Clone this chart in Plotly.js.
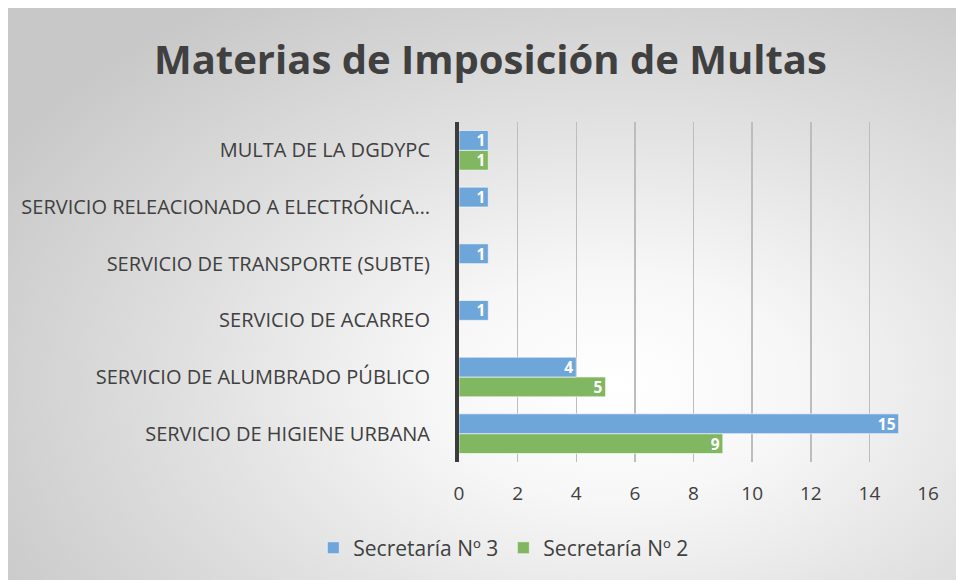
<!DOCTYPE html>
<html>
<head>
<meta charset="utf-8">
<script src="https://cdn.plot.ly/plotly-3.0.1.min.js"></script>
<style>
  html, body { margin: 0; padding: 0; background: #ffffff; overflow: hidden; }
  #frame { position: absolute; left: 8px; top: 8px; width: 948px; height: 572px;
    background: radial-gradient(ellipse 75% 80% at 64% 66%, #ffffff 0%, #f7f7f7 25%, #e0e0e0 60%, #c8c8c8 100%); }
  #chart { position: absolute; left: 0; top: 0; width: 956px; height: 580px; }
</style>
</head>
<body>
<div id="frame"></div>
<div id="chart"></div>
<script>
const categories = [
  "SERVICIO DE HIGIENE URBANA",
  "SERVICIO DE ALUMBRADO PÚBLICO",
  "SERVICIO DE ACARREO",
  "SERVICIO DE TRANSPORTE (SUBTE)",
  "SERVICIO RELEACIONADO A ELECTRÓNICA…",
  "MULTA DE LA DGDYPC"
];
const secretaria3 = [15, 4, 1, 1, 1, 1];
const secretaria2 = [9, 5, null, null, null, 1];
const seriesNames = ["Secretaría Nº 3", "Secretaría Nº 2"];
const xTicks = [0, 2, 4, 6, 8, 10, 12, 14, 16];

const fontFam = "'Open Sans', 'Liberation Sans', sans-serif";
const textCol = "#404040";

function labels(arr) { return arr.map(v => v == null ? "" : String(v)); }

const common = {
  type: "bar", orientation: "h", y: categories,
  textposition: "inside", insidetextanchor: "end", constraintext: "none", textangle: 0,
  textfont: { family: fontFam, size: 15.5, color: "#ffffff", weight: "bold" },
  hoverinfo: "x+y+name", cliponaxis: false
};

const data = [
  Object.assign({}, common, {
    name: seriesNames[1], x: secretaria2, text: labels(secretaria2),
    marker: { color: "#82b762", line: { color: "rgba(255,255,255,0.6)", width: 1 } },
    legendrank: 2
  }),
  Object.assign({}, common, {
    name: seriesNames[0], x: secretaria3, text: labels(secretaria3),
    marker: { color: "#6fa6da", line: { color: "rgba(255,255,255,0.6)", width: 1 } },
    legendrank: 1
  })
];

const layout = {
  width: 956, height: 580,
  paper_bgcolor: "rgba(0,0,0,0)", plot_bgcolor: "rgba(0,0,0,0)",
  margin: { l: 459, r: 28, t: 122, b: 118 },
  barmode: "group", bargap: 0.3, bargroupgap: 0,
  font: { family: fontFam, color: textCol },
  title: { text: "Materias de Imposición de Multas", x: 0.513, xanchor: "center", y: 0.897, yanchor: "middle",
           font: { family: fontFam, size: 40, weight: "bold", color: textCol } },
  xaxis: { range: [0, 16], tickvals: xTicks, ticktext: xTicks.map(String), showgrid: true,
           gridcolor: "#bdbdbd", gridwidth: 1.5, zeroline: false, showline: false, ticks: "",
           ticklabelstandoff: 18, tickfont: { size: 19, color: textCol, family: fontFam }, fixedrange: true },
  yaxis: { type: "category", showline: true, linecolor: "#3c3c3c", linewidth: 4, ticks: "",
           ticklabelstandoff: 21, tickfont: { size: 20, color: textCol, family: fontFam }, showgrid: false, fixedrange: true },
  legend: { orientation: "h", xref: "container", yref: "container", x: 0.527, xanchor: "center", y: 0.055, yanchor: "middle",
            font: { size: 21, color: textCol, family: fontFam }, traceorder: "normal", itemwidth: 30 },
  showlegend: true
};

Plotly.newPlot("chart", data, layout, { displayModeBar: false, staticPlot: true });
</script>
</body>
</html>
